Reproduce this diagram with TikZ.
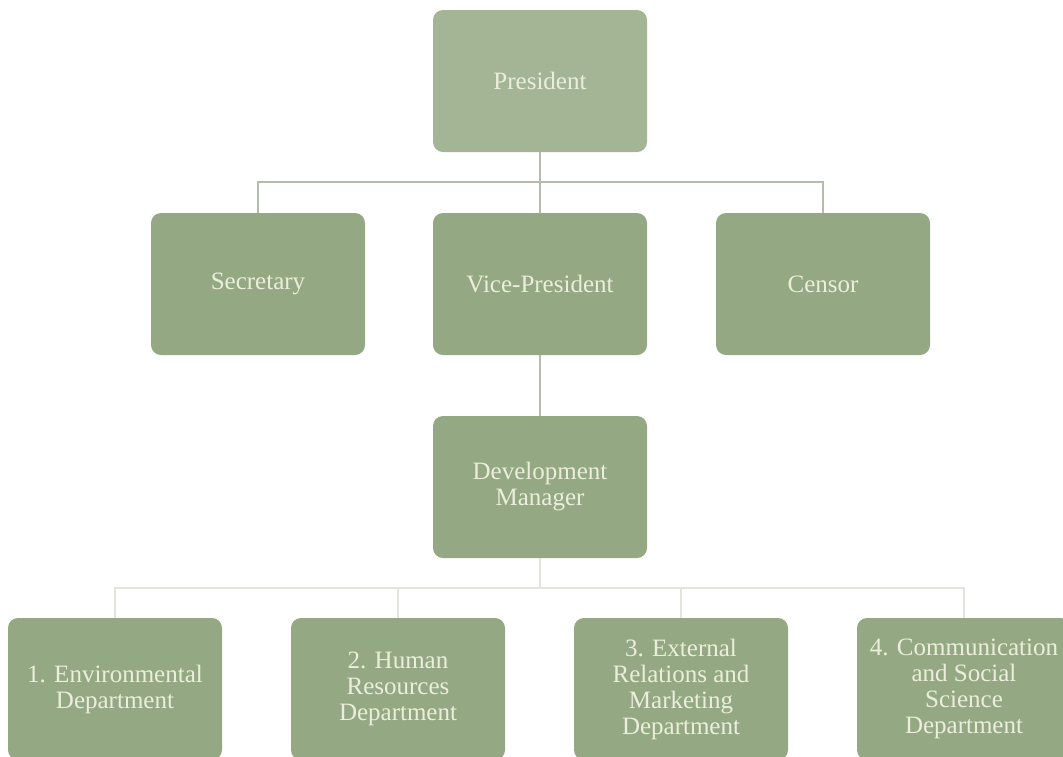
\documentclass[tikz,border=0pt]{standalone}
\usepackage{fontspec}
\setmainfont{Liberation Serif}
\definecolor{boxfill}{HTML}{94A983}
\definecolor{topfill}{HTML}{A4B596}
\definecolor{txt}{HTML}{EBEEDA}
\definecolor{lineA}{HTML}{B4BCAC}
\definecolor{lineB}{HTML}{E2E4DE}
\begin{document}
\begin{tikzpicture}[x=1pt,y=-1pt,
  orgbox/.style={rectangle,rounded corners=10pt,fill=boxfill,draw=none,
    minimum width=214pt,minimum height=142pt,inner sep=0pt,align=center,
    text=txt,font=\fontsize{25}{26}\selectfont},
  link/.style={draw=lineA,line width=1.8pt},
  faint/.style={draw=lineB,line width=1.8pt}]
\useasboundingbox (0,0) rectangle (1063,756);
\fill[white] (0,0) rectangle (1063,756);
% nodes
\node[orgbox,fill=topfill] (pres) at (540,81) {President};
\node[orgbox] (sec) at (258,284) {Secretary};
\node[orgbox] (vp) at (540,284) {Vice-President};
\node[orgbox] (cen) at (823,284) {Censor};
\node[orgbox] (dev) at (540,487) {Development\\Manager};
\node[orgbox] (d1) at (115,689) {1. Environmental\\Department};
\node[orgbox] (d2) at (398,689) {2. Human\\Resources\\Department};
\node[orgbox] (d3) at (681,689) {3. External\\Relations and\\Marketing\\Department};
\node[orgbox] (d4) at (964,689) {4. Communication\\and Social\\Science\\Department};
% connectors
\coordinate (ja) at (540,182);
\coordinate (jb) at (540,588);
\draw[link] (pres.south) -- (ja);
\draw[link] (ja) -| (sec.north);
\draw[link] (ja) -| (cen.north);
\draw[link] (ja) -- (vp.north);
\draw[link] (vp.south) -- (dev.north);
\draw[faint] (dev.south) -- (jb);
\draw[faint] (jb) -| (d1.north);
\draw[faint] (jb) -| (d2.north);
\draw[faint] (jb) -| (d3.north);
\draw[faint] (jb) -| (d4.north);
\end{tikzpicture}
\end{document}
